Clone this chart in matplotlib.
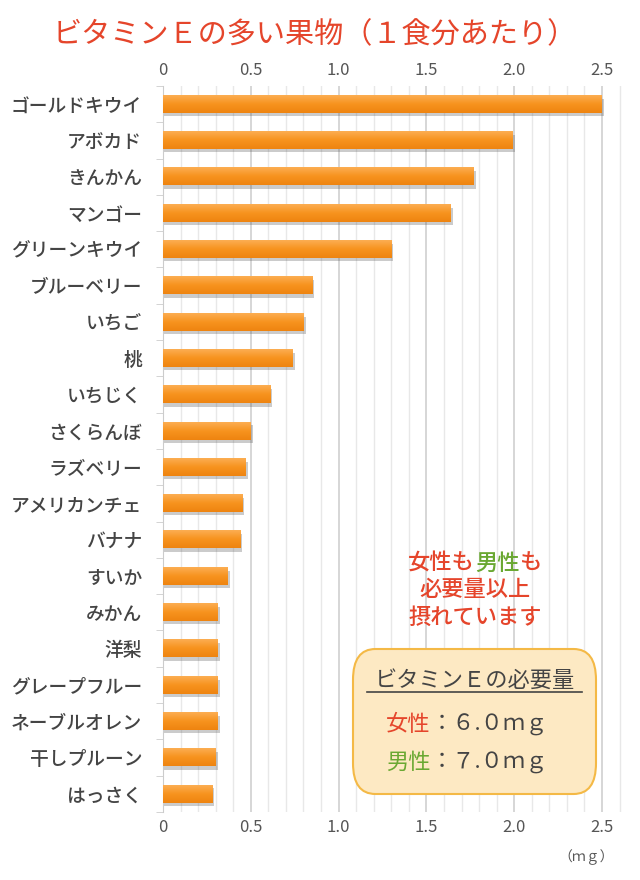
import numpy as np
import matplotlib.pyplot as plt
from matplotlib.colors import LinearSegmentedColormap
from matplotlib.patches import FancyBboxPatch
from matplotlib.ticker import MultipleLocator

plt.rcParams['font.family'] = ['Noto Sans CJK JP', 'DejaVu Sans']

# データ (mg / 1食分)
frutas = ["ゴールドキウイ", "アボカド", "きんかん", "マンゴー", "グリーンキウイ",
          "ブルーベリー", "いちご", "桃", "いちじく", "さくらんぼ",
          "ラズベリー", "アメリカンチェ", "バナナ", "すいか", "みかん",
          "洋梨", "グレープフルー", "ネーブルオレン", "干しプルーン", "はっさく"]
vitamina_e = [2.50, 1.99, 1.77, 1.64, 1.30,
              0.85, 0.80, 0.74, 0.61, 0.50,
              0.47, 0.45, 0.44, 0.37, 0.31,
              0.31, 0.31, 0.31, 0.30, 0.28]
ticks_x = [0, 0.5, 1.0, 1.5, 2.0, 2.5]
etiquetas_x = ["0", "0.5", "1.0", "1.5", "2.0", "2.5"]

ROJO = '#e5452b'
VERDE = '#6aa832'
GRIS = '#444444'

fig = plt.figure(figsize=(6.4, 8.8), dpi=100)
ax = fig.add_axes([163 / 640, 1 - 812 / 880, 459 / 640, 726 / 880])

# Degradado naranja para las barras
cmap_barra = LinearSegmentedColormap.from_list('naranja', ['#fcae52', '#f7931e', '#ee8410'])
gradiente = np.linspace(0, 1, 64).reshape(-1, 1)

alto = 0.48
for i, v in enumerate(vitamina_e):
    # sombra
    ax.barh(i + 0.09, v + 0.012, height=alto, color='#555555', alpha=0.3,
            linewidth=0, zorder=2)
    ax.imshow(gradiente, cmap=cmap_barra, aspect='auto', zorder=3,
              extent=(0, v, i + alto / 2, i - alto / 2))

ax.set_ylim(len(frutas) - 0.5, -0.5)
ax.set_xlim(0, 2.5 * 459 / 439)

ax.set_yticks(range(len(frutas)))
ax.set_yticklabels(frutas, fontsize=13.5, color=GRIS, fontweight='medium')
ax.set_yticks(np.arange(-0.5, len(frutas), 1), minor=True)
ax.tick_params(axis='y', which='major', length=0, pad=15)
ax.tick_params(axis='y', which='minor', length=5, color='#cccccc')

ax.set_xticks(ticks_x)
ax.set_xticklabels(etiquetas_x)
ax.xaxis.set_minor_locator(MultipleLocator(0.1))
ax.tick_params(axis='x', which='both', length=0, labeltop=True, labelbottom=True,
               labelsize=12, labelcolor='#555555', pad=5)
ax.grid(axis='x', which='major', color='#cfcfcf', linewidth=1.2, zorder=0)
ax.grid(axis='x', which='minor', color='#e8e8e8', linewidth=1.0, zorder=0)
ax.set_axisbelow(True)

for lado in ['top', 'right', 'bottom']:
    ax.spines[lado].set_visible(False)
ax.spines['left'].set_color('#cccccc')

# Título
fig.text(315 / 640, 1 - 35 / 880, "ビタミンＥの多い果物（１食分あたり）", ha='center', va='center',
         fontsize=21, color=ROJO)
fig.text(586 / 640, 1 - 857 / 880, "（ｍｇ）", ha='center', va='center',
         fontsize=10, color='#555555')

renderer = fig.canvas.get_renderer()


def texto_color(partes, x0, y, tam, **kw):
    # escribe trozos de distinto color uno tras otro (x0 en píxeles)
    x = x0 / 640
    for txt, col in partes:
        t = fig.text(x, 1 - y / 880, txt, ha='left', va='center',
                     fontsize=tam, color=col, **kw)
        caja = t.get_window_extent(renderer)
        x += caja.width / 640


def ancho_texto(txt, tam, **kw):
    t = fig.text(0, 0, txt, fontsize=tam, **kw)
    w = t.get_window_extent(renderer).width
    t.remove()
    return w


# Nota
tam_nota = 16
w = ancho_texto("女性も男性も", tam_nota, fontweight='medium')
texto_color([("女性も", ROJO), ("男性", VERDE), ("も", ROJO)], 475 - w / 2, 563,
            tam_nota, fontweight='medium')
fig.text(475 / 640, 1 - 590 / 880, "必要量以上", ha='center', va='center',
         fontsize=tam_nota, color=ROJO, fontweight='medium')
fig.text(475 / 640, 1 - 617 / 880, "摂れています", ha='center', va='center',
         fontsize=tam_nota, color=ROJO, fontweight='medium')

# Cuadro de necesidades
recuadro = FancyBboxPatch((353 / 640, 1 - 794 / 880), 243 / 640, 145 / 880,
                          boxstyle="round,pad=0,rounding_size=0.035",
                          transform=fig.transFigure, facecolor='#fde9c3',
                          edgecolor='#f4b946', linewidth=1.5, zorder=5)
fig.patches.append(recuadro)

fig.text(475 / 640, 1 - 680 / 880, "ビタミンＥの必要量", ha='center', va='center',
         fontsize=16, color=GRIS, zorder=6)
fig.add_artist(plt.Line2D([367 / 640, 582 / 640], [1 - 692 / 880, 1 - 692 / 880],
                          color=GRIS, linewidth=1.2, transform=fig.transFigure, zorder=6))
texto_color([("女性", ROJO), ("：６.０ｍｇ", GRIS)], 386, 724, 16, zorder=6)
texto_color([("男性", VERDE), ("：７.０ｍｇ", GRIS)], 386, 762, 16, zorder=6)

fig.savefig("out.png", dpi=100)
